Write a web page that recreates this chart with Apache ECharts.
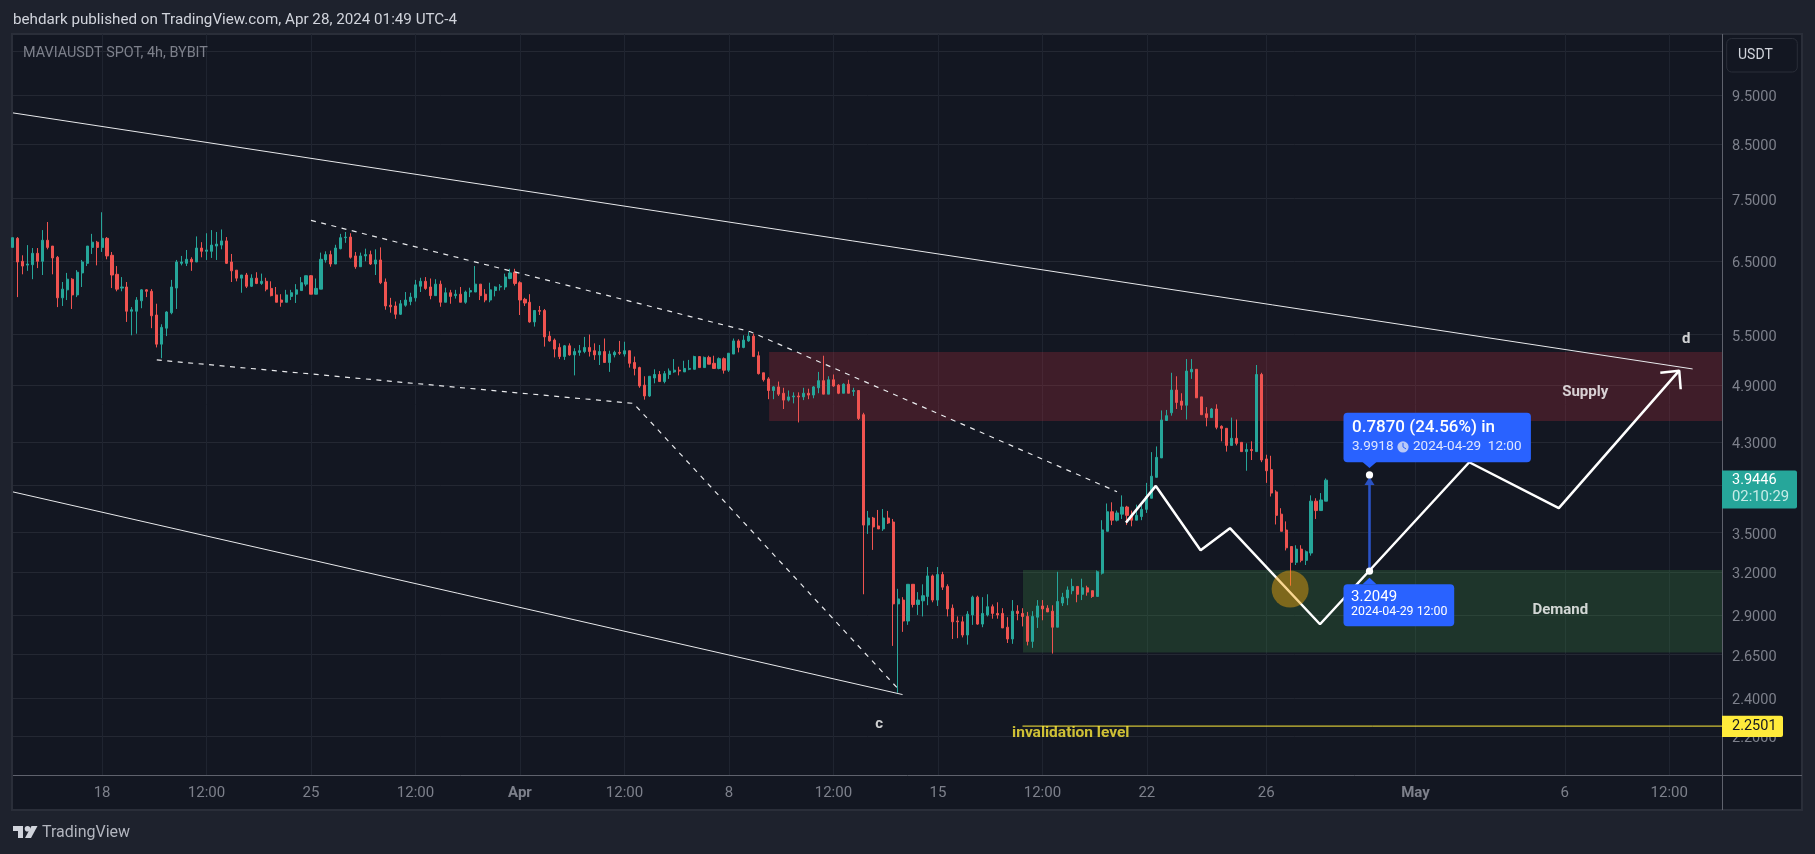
<!DOCTYPE html>
<html><head><meta charset="utf-8">
<style>html,body{margin:0;padding:0;background:#1e222d}#c{width:1815px;height:854px}</style>
<script src="https://cdn.jsdelivr.net/npm/echarts@6/dist/echarts.min.js"></script>
</head><body><div id="c"></div>
<script>
// 4h bars, counted from Mar 18 00:00 (bar 0). First bar in the window is bar -18.
const firstBar = -18;
const ohlc = [ // open, close, low, high
[6.71,6.86,6.71,6.86],[6.85,6.49,5.99,6.87],[6.50,6.43,6.31,6.59],[6.444,6.46,6.36,6.745],[6.45,6.62,6.24,6.70],[6.62,6.50,6.40,6.70],
[6.50,6.82,6.30,6.98],[6.82,6.71,6.68,7.11],[6.73,6.55,6.31,6.73],[6.56,5.98,5.855,6.58],[5.98,6.10,5.87,6.20],[6.09,6.24,5.95,6.33],
[6.24,6.02,5.83,6.255],[6.02,6.34,5.99,6.37],[6.33,6.49,6.13,6.52],[6.47,6.73,6.43,6.73],[6.71,6.79,6.61,6.92],[6.79,6.71,6.44,6.81],
[6.71,6.85,6.64,7.27],[6.85,6.58,6.53,6.87],[6.59,6.30,6.115,6.64],[6.31,6.10,6.07,6.43],[6.115,6.13,6.07,6.27],[6.13,5.80,5.66,6.20],
[5.80,5.82,5.49,5.855],[5.80,5.95,5.51,5.99],[5.94,6.09,5.84,6.10],[6.09,6.07,5.99,6.10],[6.07,5.74,5.58,6.10],[5.75,5.38,5.34,5.90],
[5.38,5.59,5.21,5.63],[5.58,5.79,5.48,5.80],[5.78,6.13,5.76,6.23],[6.115,6.49,5.83,6.52],[6.47,6.49,6.44,6.58],[6.47,6.53,6.43,6.67],
[6.53,6.49,6.36,6.56],[6.49,6.70,6.49,6.88],[6.70,6.65,6.56,6.79],[6.65,6.67,6.52,6.93],[6.65,6.745,6.55,6.98],[6.73,6.76,6.52,6.95],
[6.745,6.81,6.68,6.99],[6.81,6.47,6.46,6.87],[6.49,6.36,6.20,6.61],[6.37,6.255,6.21,6.37],[6.255,6.30,6.05,6.30],[6.30,6.14,6.115,6.33],
[6.14,6.255,6.13,6.31],[6.255,6.18,6.17,6.34],
[6.18,6.21,6.16,6.32],[6.21,6.10,6.07,6.26],[6.11,6.01,6.00,6.21],[6.02,5.92,5.92,6.13],[5.95,5.92,5.86,6.03],[5.92,6.02,5.92,6.09],
[6.00,6.05,5.95,6.09],[6.03,6.09,5.91,6.17],[6.08,6.19,6.08,6.27],[6.17,6.29,6.14,6.29],[6.29,6.03,6.03,6.30],[6.03,6.11,6.03,6.25],
[6.10,6.53,6.10,6.63],[6.52,6.60,6.48,6.65],[6.60,6.46,6.42,6.66],[6.46,6.70,6.46,6.75],[6.69,6.86,6.68,6.92],[6.86,6.87,6.78,6.95],
[6.87,6.56,6.54,6.93],[6.58,6.42,6.39,6.64],[6.42,6.58,6.42,6.63],[6.58,6.60,6.50,6.69],[6.60,6.46,6.445,6.66],[6.46,6.52,6.30,6.68],
[6.52,6.19,6.17,6.71],[6.20,5.87,5.82,6.25],[5.88,5.86,5.78,5.98],[5.87,5.76,5.70,5.93],[5.76,5.90,5.75,5.95],[5.88,5.95,5.86,6.06],
[5.93,5.99,5.88,6.05],[5.98,6.16,5.93,6.23],[6.14,6.21,6.06,6.26],[6.21,6.11,6.09,6.27],[6.13,6.01,5.96,6.25],[6.01,6.17,6.01,6.24],
[6.17,5.92,5.86,6.22],[5.92,6.05,5.92,6.12],[6.05,6.00,5.90,6.09],[6.01,6.03,5.97,6.09],[6.03,5.92,5.92,6.13],[5.92,6.06,5.90,6.08],
[6.06,6.08,5.99,6.12],[6.06,6.17,6.06,6.43],[6.17,6.01,5.95,6.17],[6.03,5.95,5.92,6.10],[5.95,6.09,5.92,6.19],[6.08,6.13,6.00,6.14],
[6.13,6.14,6.08,6.17],[6.13,6.27,6.09,6.32],
[6.25,6.33,6.24,6.39],[6.34,6.18,6.15,6.39],[6.19,5.95,5.75,6.21],[5.96,5.91,5.87,5.98],[5.92,5.66,5.65,6.03],[5.66,5.81,5.60,5.81],
[5.81,5.80,5.75,5.87],[5.81,5.47,5.35,5.83],[5.48,5.42,5.41,5.54],[5.43,5.32,5.22,5.45],[5.34,5.23,5.20,5.39],[5.23,5.36,5.19,5.37],
[5.36,5.25,5.24,5.39],[5.25,5.29,5.01,5.33],[5.28,5.30,5.24,5.37],[5.29,5.34,5.27,5.47],[5.34,5.29,5.23,5.50],[5.30,5.25,5.19,5.39],
[5.25,5.29,5.13,5.37],[5.29,5.16,5.16,5.45],[5.16,5.26,5.05,5.30],[5.25,5.28,5.22,5.30],[5.28,5.27,5.25,5.42],[5.26,5.30,5.23,5.41],
[5.30,5.15,5.10,5.30],[5.16,5.09,5.01,5.23],[5.10,4.89,4.87,5.11],[4.90,4.78,4.74,5.00],[4.78,5.00,4.77,5.00],[4.98,5.02,4.92,5.08],
[5.02,4.94,4.94,5.06],[4.94,5.03,4.92,5.06],[5.02,5.06,4.97,5.09],[5.05,5.07,5.04,5.20],[5.07,5.06,5.01,5.11],[5.05,5.09,5.05,5.18],
[5.08,5.09,5.07,5.19],[5.08,5.23,5.08,5.24],[5.23,5.10,5.10,5.23],[5.10,5.22,5.10,5.23],[5.22,5.14,5.14,5.24],[5.15,5.09,5.09,5.24],
[5.09,5.205,5.08,5.22],[5.205,5.07,5.03,5.22],[5.07,5.27,5.05,5.27],[5.26,5.42,5.26,5.45],[5.42,5.34,5.28,5.44],[5.34,5.43,5.33,5.49],
[5.42,5.48,5.41,5.53],[5.48,5.23,5.23,5.51],[5.24,5.03,5.02,5.29],
[5.04,4.96,4.94,5.04],[4.97,4.84,4.745,4.99],[4.84,4.88,4.745,4.89],[4.88,4.80,4.78,4.94],[4.81,4.735,4.64,4.87],[4.735,4.77,4.72,4.84],
[4.77,4.78,4.70,4.82],[4.78,4.77,4.50,4.82],[4.77,4.81,4.735,4.87],[4.81,4.79,4.745,4.86],[4.79,4.88,4.755,4.89],[4.87,4.95,4.81,5.05],
[4.95,4.80,4.80,5.24],[4.80,4.96,4.80,5.00],[4.96,4.89,4.88,5.02],[4.90,4.81,4.80,4.91],[4.81,4.91,4.81,4.92],[4.91,4.81,4.81,4.96],
[4.83,4.84,4.78,4.87],[4.84,4.54,4.525,4.84],[4.58,3.56,3.04,4.60],
[3.561,3.618,3.489,3.677],[3.618,3.545,3.364,3.627],[3.553,3.529,3.529,3.685],[3.529,3.618,3.513,3.693],[3.618,3.577,3.569,3.677],
[3.585,2.974,2.702,3.61],[2.974,3.008,2.428,3.078],
[3.00,2.86,2.79,3.02],[2.86,3.11,2.835,3.11],[3.11,2.97,2.95,3.11],[2.97,3.00,2.90,3.055],[2.995,3.03,2.89,3.11],[3.025,3.17,2.965,3.235],
[3.17,3.00,2.985,3.18],[3.00,3.18,2.96,3.235],[3.18,3.09,3.07,3.20],[3.095,2.94,2.89,3.11],[2.945,2.855,2.745,2.97],[2.86,2.855,2.75,2.89],
[2.855,2.77,2.755,2.89],[2.77,2.905,2.71,2.925],[2.90,3.02,2.835,3.03],[3.02,2.84,2.835,3.03],[2.84,2.91,2.82,3.02],[2.90,2.955,2.89,3.04],
[2.955,2.91,2.875,2.97],[2.91,2.90,2.875,2.985],[2.91,2.815,2.815,2.945],[2.82,2.745,2.72,2.885],[2.745,2.925,2.715,3.00],[2.925,2.91,2.865,2.965],
[2.91,2.89,2.825,2.945],[2.89,2.73,2.705,2.92],[2.73,2.89,2.69,2.925],[2.885,2.96,2.815,3.00],[2.96,2.94,2.865,3.00],[2.945,2.92,2.92,2.965],
[2.925,2.82,2.655,2.965],[2.82,2.99,2.82,3.20],[2.98,3.02,2.96,3.05],[3.015,3.07,2.965,3.095],[3.065,3.095,3.04,3.15],[3.095,3.04,2.985,3.095],
[3.04,3.085,3.00,3.15],[3.085,3.055,3.03,3.10],[3.065,3.025,3.015,3.065],[3.025,3.20,3.025,3.21],[3.19,3.521,3.18,3.60],
[3.51,3.67,3.51,3.74],[3.67,3.60,3.56,3.75],[3.60,3.66,3.59,3.68],[3.65,3.71,3.61,3.81],[3.71,3.64,3.56,3.72],[3.64,3.60,3.55,3.68],
[3.60,3.64,3.60,3.73],[3.63,3.69,3.60,3.73],[3.69,3.80,3.66,3.92],[3.785,3.98,3.785,4.205],[3.97,4.155,3.97,4.26],[4.15,4.525,4.15,4.625],
[4.52,4.57,4.52,4.63],[4.60,4.845,4.57,5.04],[4.845,4.71,4.64,5.00],[4.725,4.68,4.63,4.81],[4.68,5.06,4.53,5.20],[5.05,5.08,4.97,5.20],
[5.08,4.76,4.76,5.08],[4.77,4.58,4.58,4.77],[4.59,4.55,4.46,4.66],[4.55,4.64,4.55,4.65],[4.64,4.45,4.43,4.69],[4.46,4.44,4.31,4.47],
[4.44,4.27,4.21,4.44],[4.27,4.34,4.27,4.55],[4.34,4.29,4.27,4.53],[4.30,4.21,4.21,4.30],[4.21,4.23,4.03,4.29],[4.23,4.22,4.13,4.31],
[4.21,5.02,4.21,5.13],[5.02,4.13,4.11,5.04],[4.14,4.03,3.92,4.18],[4.04,3.83,3.80,4.17],[3.84,3.64,3.565,3.855],[3.65,3.51,3.51,3.70],
[3.52,3.38,3.36,3.59],[3.39,3.27,3.10,3.39],[3.27,3.37,3.25,3.40],[3.37,3.285,3.27,3.40],[3.285,3.35,3.25,3.36],[3.34,3.76,3.32,3.81],
[3.76,3.68,3.61,3.785],[3.68,3.77,3.68,3.83],[3.76,3.9446,3.76,3.96]
];

const xMin = -17.9, xMax = 325.6, yMin = 2.0125, yMax = 10.92;
const xTickBars = [0,21,42,63,84,105,126,147,168,189,210,234,264,294,315];
const xTickLabels = ['18','12:00','25','12:00','Apr','12:00','8','12:00','15','12:00','22','26','May','6','12:00'];
const gridPrices = [10.5,9.5,8.5,7.5,6.5,5.5,4.9,4.3,3.9,3.5,3.2,2.9,2.65,2.4,2.2];
const labelPrices = [9.5,8.5,7.5,6.5,5.5,4.9,4.3,3.5,3.2,2.9,2.65,2.4,2.2];

const channelUpper = [[-17.9,9.12],[319.7,5.084]];
const channelLower = [[-17.9,3.84],[160.9,2.418]];
const dashLower = [[11,5.19],[106.8,4.70],[160,2.45]];
const dashUpper = [[42,7.137],[130.3,5.535],[204,3.842]];
const planPath = [[205.8,3.58],[211.8,3.893],[220.8,3.362],[226.7,3.535],[244.8,2.839],[274.8,4.109],[292.8,3.70],[317,5.064]];
const planHead = [[313.2,5.04],[317,5.064],[317.3,4.854]];
const supplyZone = [[134.07,5.285],[xMax,4.515]];
const demandZone = [[185.1,3.214],[xMax,2.661]];
const invalidation = [[185,2.2501],[xMax,2.2501]];
const highlight = [[238.8,3.076]];
const measure = {bar:254.75, from:3.2049, to:3.9918};
const lastPrice = 3.9446, stopPrice = 2.2501;
const notes = [['d',318.4,5.44],['c',156.2,2.26]];
const zoneNotes = [['Supply',298.1,4.825],['Demand',293.1,2.93]];
const invalidationNote = [['invalidation level',194.7,2.213]];

const FONT = 'Roboto, "Liberation Sans", sans-serif';
const GREY = '#7d808b';
const line = (name,data,style,z) => ({name,type:'line',data,symbol:'none',silent:true,z:z||4,animation:false,
  lineStyle:Object.assign({color:'#e8e9ec',width:1},style)});
const textSeries = (data,color,size,z) => ({type:'scatter',silent:true,z:z||9,symbolSize:1,itemStyle:{color:'rgba(0,0,0,0)'},
  data:data.map(d=>({value:[d[1],d[2]],name:d[0]})),
  label:{show:true,position:'inside',formatter:'{b}',color,fontSize:size,fontWeight:'bold',fontFamily:FONT}});

const chart = echarts.init(document.getElementById('c'),null,{renderer:'canvas'});
chart.setOption({
  animation:false,
  backgroundColor:'#1e222d',
  grid:{left:13,right:93,top:34,bottom:79,containLabel:false},
  xAxis:{type:'value',min:xMin,max:xMax,
    axisLine:{show:false},
    axisTick:{show:false,customValues:xTickBars},
    splitLine:{show:true,lineStyle:{color:'#1f2430',width:1}},
    axisLabel:{show:true,customValues:xTickBars,margin:11,showMinLabel:true,showMaxLabel:true,hideOverlap:false,
      formatter:v=>{const t=xTickLabels[xTickBars.indexOf(Math.round(v))];return (t==='Apr'||t==='May')?'{b|'+t+'}':'{n|'+t+'}';},
      rich:{n:{fontFamily:FONT,fontSize:15,color:GREY},b:{fontFamily:FONT,fontSize:15,fontWeight:'bold',color:GREY}}}},
  yAxis:{type:'log',logBase:10,position:'right',min:yMin,max:yMax,
    axisLine:{show:false},
    axisTick:{show:false,customValues:gridPrices},
    splitLine:{show:true,lineStyle:{color:'#242833',width:1}},
    minorSplitLine:{show:false},
    axisLabel:{show:true,customValues:labelPrices,margin:10,hideOverlap:false,
      formatter:v=>'{a|'+Number(v).toFixed(4)+'}',
      rich:{a:{color:GREY,fontFamily:FONT,fontSize:14.5,padding:[5,0,0,0]}}}},
  series:[
    {type:'line',data:[],z:1,silent:true,
      markArea:{silent:true,data:[
        [{coord:supplyZone[0],itemStyle:{color:'rgba(242,54,69,0.2)'}},{coord:supplyZone[1]}],
        [{coord:demandZone[0],itemStyle:{color:'rgba(76,175,80,0.2)'}},{coord:demandZone[1]}]]}},
    {type:'candlestick',z:3,barWidth:2.6,silent:true,clip:true,
      data:ohlc.map((r,i)=>[firstBar+i,r[0],r[1],r[2],r[3]]),
      itemStyle:{color:'#26a69a',color0:'#ef5350',borderColor:'#26a69a',borderColor0:'#ef5350',borderWidth:1}},
    line('upper',channelUpper,{}),
    line('lower',channelLower,{}),
    line('dashLower',dashLower,{type:[5,5.5],width:1.2}),
    line('dashUpper',dashUpper,{type:[5,5.5],width:1.2}),
    line('plan',planPath,{color:'#ffffff',width:2.5},5),
    line('planHead',planHead,{color:'#ffffff',width:2.5},5),
    line('invalidation',invalidation,{color:'#ffeb3b',width:1},4),
    {type:'scatter',z:6,silent:true,data:highlight,symbol:'circle',symbolSize:37,itemStyle:{color:'rgba(245,166,10,0.45)',opacity:1}},
    {type:'custom',z:7,silent:true,clip:false,data:[[measure.bar,measure.from,measure.to]],
      renderItem:(p,api)=>{
        const a=api.coord([api.value(0),api.value(1)]), b=api.coord([api.value(0),api.value(2)]);
        const x=a[0], blue='#2962ff';
        return {type:'group',children:[
          {type:'line',shape:{x1:x,y1:a[1],x2:x,y2:b[1]+8},style:{stroke:'#2a52c4',lineWidth:2.6}},
          {type:'polygon',shape:{points:[[x,b[1]+2],[x-5,b[1]+10],[x+5,b[1]+10]]},style:{fill:'#2a52c4'}},
          {type:'circle',shape:{cx:x,cy:a[1],r:3.6},style:{fill:'#fff'}},
          {type:'circle',shape:{cx:x,cy:b[1],r:3.6},style:{fill:'#fff'}},
          {type:'polygon',shape:{points:[[x,b[1]-7],[x-7,b[1]-13],[x+7,b[1]-13]]},style:{fill:blue}},
          {type:'rect',shape:{x:x-26,y:b[1]-62.3,width:187.4,height:49.6,r:4},style:{fill:blue}},
          {type:'text',style:{x:x-17.5,y:b[1]-47,text:'0.7870 (24.56%) in',fill:'#fff',font:'500 17px '+FONT,textVerticalAlign:'middle'}},
          {type:'text',style:{x:x-17.5,y:b[1]-28,text:'3.9918',fill:'#dfe6ff',font:'13.5px '+FONT,textVerticalAlign:'middle'}},
          {type:'circle',shape:{cx:x+33.5,cy:b[1]-28,r:5.6},style:{fill:'#b9c9f7'}},
          {type:'polyline',shape:{points:[[x+33.5,b[1]-32],[x+33.5,b[1]-28],[x+36.5,b[1]-26]]},style:{stroke:'#2962ff',fill:null,lineWidth:1}},
          {type:'text',style:{x:x+43.5,y:b[1]-28,text:'2024-04-29  12:00',fill:'#dfe6ff',font:'13.5px '+FONT,textVerticalAlign:'middle'}},
          {type:'polygon',shape:{points:[[x,a[1]+6.5],[x-7,a[1]+13],[x+7,a[1]+13]]},style:{fill:blue}},
          {type:'rect',shape:{x:x-26,y:a[1]+13,width:110.7,height:42,r:4},style:{fill:blue}},
          {type:'text',style:{x:x-18.5,y:a[1]+25.7,text:'3.2049',fill:'#fff',font:'15px '+FONT,textVerticalAlign:'middle'}},
          {type:'text',style:{x:x-18.5,y:a[1]+41,text:'2024-04-29 12:00',fill:'#fff',font:'12.4px '+FONT,textVerticalAlign:'middle'}}
        ]};
      }},
    textSeries(notes,'#ffffff',15),
    textSeries(zoneNotes,'#ffffff',15),
    textSeries(invalidationNote,'#ffeb3b',15.5),
    {type:'custom',z:20,silent:true,clip:false,data:[[xMax,lastPrice,stopPrice]],
      renderItem:(p,api)=>{
        const g=api.coord([api.value(0),api.value(1)]), s=api.coord([api.value(0),api.value(2)]);
        const x=g[0];
        return {type:'group',children:[
          {type:'rect',shape:{x:x,y:g[1]-9.7,width:75,height:38,r:[0,2,2,0]},style:{fill:'#26a69a'}},
          {type:'text',style:{x:x+10,y:g[1],text:'3.9446',fill:'#ffffff',font:'14.5px '+FONT,textVerticalAlign:'middle'}},
          {type:'text',style:{x:x+10,y:g[1]+17,text:'02:10:29',fill:'#c7ece7',font:'14.8px '+FONT,textVerticalAlign:'middle'}},
          {type:'rect',shape:{x:x,y:s[1]-10.3,width:61,height:21.3,r:[0,2,2,0]},style:{fill:'#ffeb3b'}},
          {type:'text',style:{x:x+10,y:s[1]+0.5,text:'2.2501',fill:'#131722',font:'14.5px '+FONT,textVerticalAlign:'middle'}}
        ]};
      }}
  ],
  graphic:{elements:[
    {type:'rect',z:-1,silent:true,shape:{x:12,y:34,width:1790,height:776},style:{fill:'#131722',stroke:'#2a2e39',lineWidth:2}},
    {type:'line',z:10,silent:true,shape:{x1:13,y1:775.5,x2:1802,y2:775.5},style:{stroke:'#5f626d',lineWidth:1}},
    {type:'line',z:10,silent:true,shape:{x1:1722.5,y1:34,x2:1722.5,y2:810},style:{stroke:'#5f626d',lineWidth:1}},
    {type:'rect',z:10,silent:true,shape:{x:1726.7,y:38.5,width:70.6,height:33.5,r:5},style:{fill:'#131722',stroke:'#2a2e39',lineWidth:1}},
    {type:'text',z:11,silent:true,style:{x:1738,y:55.5,text:'USDT',fill:'#d1d4dc',font:'14px '+FONT,textVerticalAlign:'middle'}},
    {type:'text',z:11,silent:true,style:{x:13,y:20,text:'behdark published on TradingView.com, Apr 28, 2024 01:49 UTC-4',fill:'#d1d4dc',font:'15.2px '+FONT,textVerticalAlign:'middle'}},
    {type:'text',z:11,silent:true,style:{x:23,y:53.5,text:'MAVIAUSDT SPOT, 4h, BYBIT',fill:GREY,font:'14.4px '+FONT,textVerticalAlign:'middle'}},
    {type:'polygon',z:11,silent:true,shape:{points:[[13,826],[23,826],[23,838],[18,838],[18,831],[13,831]]},style:{fill:'#d1d4dc'}},
    {type:'circle',z:11,silent:true,shape:{cx:27.5,cy:828.8,r:2.8},style:{fill:'#d1d4dc'}},
    {type:'polygon',z:11,silent:true,shape:{points:[[31.5,826],[37.5,826],[31,838],[25,838]]},style:{fill:'#d1d4dc'}},
    {type:'text',z:11,silent:true,style:{x:42,y:832.5,text:'TradingView',fill:'#b2b5be',font:'16px '+FONT,textVerticalAlign:'middle'}}
  ]}
});
</script></body></html>
